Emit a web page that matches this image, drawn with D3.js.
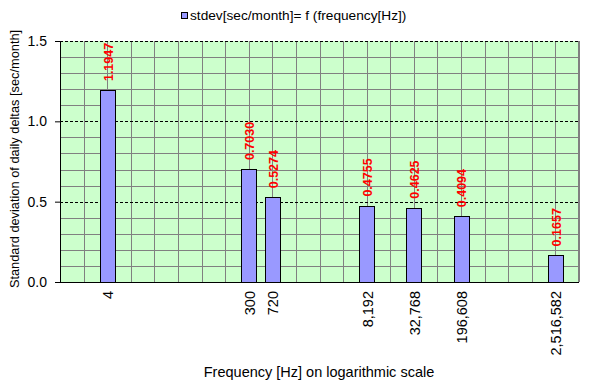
<!doctype html>
<html lang="en">
<head>
    <meta charset="UTF-8">
    <title>stdev vs frequency</title>
    <style>
        body { margin: 0; background: #fff; }
        svg text { font-family: Arial, "Liberation Sans", sans-serif; }
    </style>
</head>
<body>
<div class="chart"></div>
<script src="https://d3js.org/d3.v7.min.js"></script>
<script>
  // frequencies (Hz) and measured stdev (sec/month)
  const frequencies = [4, 300, 720, 8192, 32768, 196608, 2516582]
  const stdevs = [1.1947, 0.7030, 0.5274, 0.4755, 0.4625, 0.4094, 0.1657]
  const yTicks = [0, 0.5, 1.0, 1.5]
  const legendText = 'stdev[sec/month]= f (frequency[Hz])'
  const xTitle = 'Frequency [Hz] on logarithmic scale'
  const yTitle = 'Standard deviation of daily deltas [sec/month]'

  // one category per power of two, 2^0 .. 2^22
  const bins = d3.range(23)
  const data = frequencies.map((f, i) => ({
    freq: f,
    bin: Math.floor(Math.log2(f)),
    value: stdevs[i]
  }))

  const width = 590
  const height = 385
  const margin = { top: 41, right: 11, bottom: 103, left: 60 }
  const innerW = width - margin.left - margin.right
  const innerH = height - margin.top - margin.bottom

  const x = d3.scalePoint().domain(bins).range([0, innerW])
  const y = d3.scaleLinear().domain([0, 1.5]).range([innerH, 0])

  const svg = d3.select('.chart')
    .append('svg')
    .attr('width', width)
    .attr('height', height)

  const g = svg.append('g')
    .attr('transform', `translate(${margin.left}, ${margin.top})`)

  g.append('rect')
    .attr('width', innerW)
    .attr('height', innerH)
    .attr('fill', '#ccffcc')

  // minor horizontal grid
  g.append('g')
    .selectAll('line')
    .data(d3.range(1, 15).map(d => d / 10).filter(d => Math.round(d * 10) % 5 !== 0))
    .enter()
    .append('line')
    .attr('x1', 0)
    .attr('x2', innerW)
    .attr('y1', d => Math.round(y(d)) + 0.5)
    .attr('y2', d => Math.round(y(d)) + 0.5)
    .attr('stroke', '#808080')

  // vertical grid
  g.append('g')
    .selectAll('line')
    .data(bins.slice(1))
    .enter()
    .append('line')
    .attr('x1', d => Math.round(x(d)) + 0.5)
    .attr('x2', d => Math.round(x(d)) + 0.5)
    .attr('y1', 0)
    .attr('y2', innerH)
    .attr('stroke', '#808080')

  // major dashed lines
  g.append('g')
    .selectAll('line')
    .data(yTicks.slice(1))
    .enter()
    .append('line')
    .attr('x1', 0)
    .attr('x2', innerW)
    .attr('y1', d => Math.round(y(d)) + 0.5)
    .attr('y2', d => Math.round(y(d)) + 0.5)
    .attr('stroke', '#000')
    .attr('stroke-dasharray', '3,2')

  // bars
  const barW = 15
  g.selectAll('.bar')
    .data(data)
    .enter()
    .append('rect')
    .attr('class', 'bar')
    .attr('x', d => Math.round(x(d.bin) - barW / 2) + 0.5)
    .attr('y', d => Math.round(y(d.value)) + 0.5)
    .attr('width', barW)
    .attr('height', d => innerH - Math.round(y(d.value)))
    .attr('fill', '#9999ff')
    .attr('stroke', '#000')

  // value labels
  g.selectAll('.val')
    .data(data)
    .enter()
    .append('text')
    .attr('class', 'val')
    .attr('transform', d => `translate(${x(d.bin) + 1}, ${y(d.value) - 9}) rotate(-90)`)
    .attr('dy', '0.35em')
    .attr('fill', '#ff0000')
    .style('font-size', '12.5px')
    .style('font-weight', 'bold')
    .text(d => d.value.toFixed(4))

  // y axis
  const yAxis = d3.axisLeft(y).tickValues(yTicks).tickFormat(d3.format('.1f')).tickSize(5).tickPadding(8)
  g.append('g')
    .call(yAxis)
    .call(a => a.select('.domain').attr('stroke', '#000'))
    .call(a => a.selectAll('text').style('font-size', '14px').attr('fill', '#000'))

  // x axis line + right border
  g.append('line')
    .attr('x1', 0).attr('x2', innerW)
    .attr('y1', innerH + 0.5).attr('y2', innerH + 0.5)
    .attr('stroke', '#000')
  g.append('line')
    .attr('x1', innerW - 0.5).attr('x2', innerW - 0.5)
    .attr('y1', 0).attr('y2', innerH)
    .attr('stroke', '#808080')

  // x tick labels
  g.selectAll('.xlab')
    .data(data)
    .enter()
    .append('text')
    .attr('class', 'xlab')
    .attr('transform', d => `translate(${x(d.bin) + 1}, ${innerH + 9}) rotate(-90)`)
    .attr('dy', '0.35em')
    .attr('text-anchor', 'end')
    .style('font-size', '14.5px')
    .text(d => d3.format(',')(d.freq))

  // titles
  svg.append('text')
    .attr('x', 319)
    .attr('y', 377)
    .attr('text-anchor', 'middle')
    .style('font-size', '14.5px')
    .text(xTitle)

  svg.append('text')
    .attr('transform', 'translate(15, 159) rotate(-90)')
    .attr('dy', '0.35em')
    .attr('text-anchor', 'middle')
    .style('font-size', '12.8px')
    .text(yTitle)

  // legend
  const legend = svg.append('g').attr('transform', 'translate(181, 12)')
  legend.append('rect')
    .attr('x', 0.5).attr('y', 0.5)
    .attr('width', 6).attr('height', 6)
    .attr('fill', '#9999ff')
    .attr('stroke', '#000')
  legend.append('text')
    .attr('x', 9)
    .attr('y', 8)
    .style('font-size', '13.7px')
    .text(legendText)
</script>
</body>
</html>
